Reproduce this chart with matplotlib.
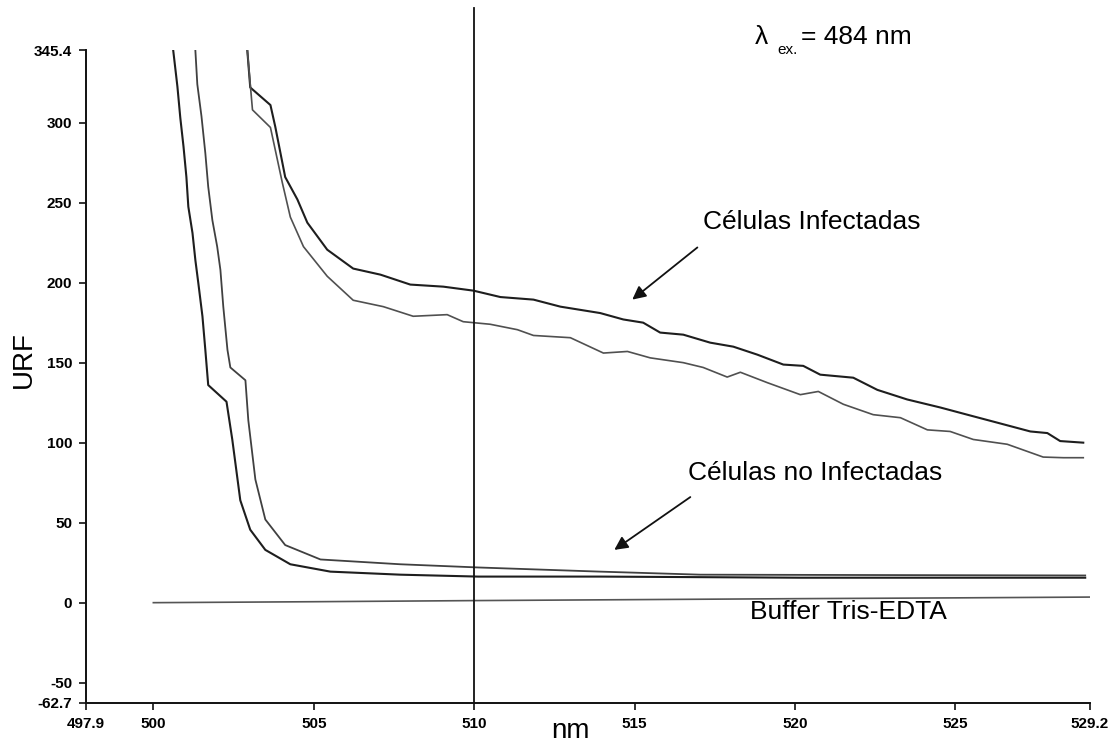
import matplotlib
matplotlib.use("Agg")
import matplotlib.pyplot as plt
import numpy as np

# ---------------- data ----------------
inf_up_x = [502.93, 503.02, 503.65, 503.80, 504.11, 504.49, 504.80, 505.42, 506.23, 507.08,
            508.01, 509.04, 509.98, 510.82, 511.85, 512.69, 513.93, 514.65, 515.27, 515.80,
            516.52, 517.36, 518.08, 518.83, 519.64, 520.26, 520.79, 521.82, 522.57, 523.50,
            524.53, 525.37, 526.31, 527.34, 527.87, 528.27, 528.99]
inf_up_y = [345.0, 322.0, 311.0, 297.5, 266.0, 252.0, 237.5, 220.6, 208.8, 205.0,
            198.8, 197.5, 195.0, 191.0, 189.4, 185.0, 181.0, 177.0, 175.0, 168.8,
            167.5, 162.5, 160.0, 155.0, 148.8, 148.0, 142.5, 140.6, 133.0, 127.0,
            122.0, 117.5, 112.5, 107.0, 106.0, 101.0, 100.0]

inf_lo_x = [502.93, 503.09, 503.65, 504.02, 504.27, 504.68, 505.42, 506.23, 507.17, 508.10,
            509.16, 509.66, 510.50, 511.35, 511.85, 513.00, 514.03, 514.78, 515.49, 516.52,
            517.14, 517.89, 518.30, 519.14, 520.17, 520.73, 521.51, 522.44, 523.29, 524.13,
            524.84, 525.56, 526.62, 527.74, 528.37, 528.99]
inf_lo_y = [345.0, 308.0, 297.0, 262.5, 241.0, 222.5, 204.0, 189.0, 185.0, 179.0,
            180.0, 175.6, 174.0, 170.6, 167.0, 165.6, 156.0, 157.0, 153.0, 150.0,
            147.0, 141.0, 144.0, 137.5, 130.0, 132.0, 124.0, 117.5, 115.6, 108.0,
            107.0, 102.0, 99.0, 91.0, 90.6, 90.6]

noinf_a_x = [500.62, 500.75, 500.84, 500.94, 501.03, 501.09, 501.22, 501.31, 501.40, 501.53,
             501.62, 501.71, 502.28, 502.46, 502.71, 503.02, 503.49, 504.27, 505.52, 507.70,
             510.13, 513.93, 520.17, 529.05]
noinf_a_y = [345.0, 322.5, 303.0, 285.0, 266.0, 247.5, 231.0, 214.0, 200.0, 179.0,
             158.0, 136.0, 125.6, 102.0, 64.0, 45.6, 33.0, 24.0, 19.4, 17.5,
             16.3, 16.3, 15.6, 15.6]

noinf_b_x = [501.31, 501.37, 501.50, 501.62, 501.71, 501.84, 501.99, 502.09, 502.18, 502.31,
             502.40, 502.87, 502.96, 503.18, 503.49, 504.11, 505.21, 507.70, 510.13, 513.93,
             517.05, 529.05]
noinf_b_y = [345.0, 324.0, 304.0, 281.0, 260.0, 239.0, 222.5, 208.0, 185.0, 158.0,
             147.0, 139.0, 114.0, 77.0, 52.0, 36.0, 27.0, 24.0, 22.0, 19.4,
             17.5, 17.0]

buffer_x = [500.0, 505.0, 510.0, 515.0, 520.0, 525.0, 529.2]
buffer_y = [0.0, 0.6, 1.3, 1.9, 2.5, 3.0, 3.5]

x_ticks = [497.9, 500, 505, 510, 515, 520, 525, 529.2]
x_ticklabels = ["497.9", "500", "505", "510", "515", "520", "525", "529.2"]
y_ticks = [-62.7, -50, 0, 50, 100, 150, 200, 250, 300, 345.4]
y_ticklabels = ["-62.7", "-50", "0", "50", "100", "150", "200", "250", "300", "345.4"]
x_lim = (497.9, 529.2)
y_lim = (-62.7, 345.4)
marker_wavelength = 510

# ---------------- figure ----------------
plt.rcParams['font.family'] = ['Liberation Sans', 'DejaVu Sans']
W, H = 1118, 747
fig = plt.figure(figsize=(W / 100, H / 100), dpi=100)
ax = fig.add_axes([86 / W, 1 - 703 / H, (1090 - 86) / W, (703 - 50) / H])

ax.plot(inf_up_x, inf_up_y, color='#1e1e1e', lw=1.5)
ax.plot(inf_lo_x, inf_lo_y, color='#505050', lw=1.2)
ax.plot(noinf_a_x, noinf_a_y, color='#1e1e1e', lw=1.5)
ax.plot(noinf_b_x, noinf_b_y, color='#404040', lw=1.3)
ax.plot(buffer_x, buffer_y, color='#555555', lw=1.2)

ax.axvline(marker_wavelength, ymin=0, ymax=1.065, color='#111111', lw=1.3, clip_on=False)

ax.set_xlim(*x_lim)
ax.set_ylim(*y_lim)
ax.set_xticks(x_ticks)
ax.set_xticklabels(x_ticklabels, family='Liberation Sans', fontweight='bold', fontsize=11)
ax.set_yticks(y_ticks)
ax.set_yticklabels(y_ticklabels, family='Liberation Sans', fontweight='bold', fontsize=11)
ax.tick_params(direction='out', length=5, width=1.2, color='#111111', pad=5)

for s in ['top', 'right']:
    ax.spines[s].set_visible(False)
for s in ['left', 'bottom']:
    ax.spines[s].set_linewidth(1.4)
    ax.spines[s].set_color('#111111')

# axis titles
fig.text(570 / W, 1 - 731 / H, 'nm', fontsize=20, ha='center', va='center')
fig.text(24 / W, 1 - 360 / H, 'URF', fontsize=20, ha='center', va='center', rotation=90)

# excitation wavelength note
fig.text(755 / W, 1 - 37 / H, 'λ', fontsize=19, ha='left', va='center')
fig.text(777 / W, 1 - 50 / H, 'ex.', fontsize=11, ha='left', va='center')
fig.text(801 / W, 1 - 37 / H, '= 484 nm', fontsize=19, ha='left', va='center')

ax.text(520.54, 238, 'Células Infectadas', fontsize=19, ha='center', va='center')
ax.annotate('', xy=(514.93, 189.4), xytext=(516.96, 222),
            arrowprops=dict(arrowstyle='-|>', color='#111111', lw=1.3,
                            mutation_scale=20, shrinkA=0, shrinkB=0))

ax.text(520.64, 81, 'Células no Infectadas', fontsize=19, ha='center', va='center')
ax.annotate('', xy=(514.37, 33), xytext=(516.74, 66),
            arrowprops=dict(arrowstyle='-|>', color='#111111', lw=1.3,
                            mutation_scale=20, shrinkA=0, shrinkB=0))

ax.text(521.67, -5.6, 'Buffer Tris-EDTA', fontsize=19, ha='center', va='center')

fig.savefig('out.png', dpi=100)
